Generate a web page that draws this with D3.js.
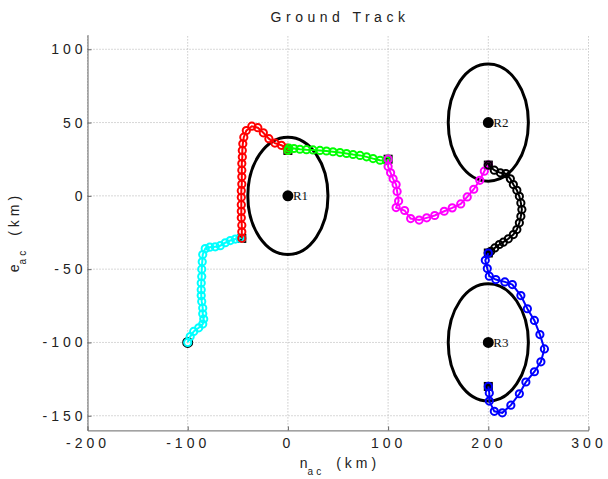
<!DOCTYPE html>
<html>
<head>
<meta charset="utf-8">
<script src="https://cdn.jsdelivr.net/npm/d3@7"></script>
<style>
body { margin: 0; background: #fff; }
text { font-family: "Liberation Sans", Arial, sans-serif; }
</style>
</head>
<body>
<script>
// ground track segments, [n, e] in km
var cyanTrack = [[-100,-100],[-97.5,-96],[-94,-92.5],[-89,-90],[-85,-87.5],[-84,-84],[-85,-80.5],[-85,-76.5],[-86,-72],[-86.5,-68],[-86.5,-64],[-86.5,-59.5],[-86,-55],[-86,-50],[-85.5,-45],[-85,-40],[-82.5,-36],[-78,-35],[-72.5,-34.8],[-67.5,-34],[-62.5,-32],[-57.5,-30.5],[-52.5,-29.5],[-48,-29],[-46,-29]];
var redTrack = [[-46,-29],[-46,-24.5],[-46,-20],[-46.5,-15],[-46.5,-10.5],[-46.5,-6],[-46.5,-1],[-46.5,3.5],[-46,8],[-46,13],[-46,17.5],[-46,22],[-45.5,26.5],[-45.5,31],[-45,35.5],[-44,40],[-41.5,44.5],[-36,47.5],[-30,46.5],[-24.5,43],[-19,39],[-13,36],[-6.5,34.5],[-1,32.5],[0,31]];
var greenTrack = [[0,31],[1,32.5],[6,32.3],[12,31.8],[18.5,31.5],[25,31.3],[32,31],[38.5,30.6],[45,30.1],[52,29.5],[58.5,28.9],[65,28.2],[72,27.6],[78.5,26.6],[85,25.4],[92,24.3],[98.5,24],[100,25]];
var magentaTrack = [[100,25],[100,20],[102.5,15.7],[105,11.6],[108,7.7],[109,3],[110.5,-3.5],[108,-8],[116.5,-10],[122.5,-15.5],[131,-16.5],[138.5,-15],[146.5,-13.4],[156,-10.5],[164,-8.2],[172.5,-5.5],[179,-0.7],[185.5,4.5],[191.5,10.6],[196,16.8],[200,21]];
var blackTrack = [[200,21],[206,17.5],[212,15.7],[217.5,15.2],[222,11.6],[225,7.7],[228.5,3.8],[231,-0.3],[232.5,-4.8],[233.5,-9.3],[232.5,-13.9],[231,-18.4],[228.5,-23],[225,-26.4],[220,-29.3],[215,-31.6],[211,-33.2],[206.5,-35.5],[202.5,-37.8],[200,-39]];
var blueTrack = [[200,-39],[197,-44],[199,-49.6],[201,-54.8],[207.5,-57.1],[216.5,-58.7],[224,-60.5],[232.5,-68],[239,-77],[246,-85],[251.5,-94.6],[256,-104.4],[252.5,-113.2],[246,-120],[237.5,-127],[231,-135],[222.5,-142.8],[214,-148],[206,-147],[201,-140],[201,-134.5],[200,-130]];

// waypoints where the segments join
var waypoints = [[-46,-29],[0,31],[100,25],[200,21],[200,-39],[200,-130]];

// radars
var radarNames = ["R1", "R2", "R3"];
var radarN = [0, 200, 200];
var radarE = [0, 50, -100];
var radarRange = [40, 40, 40];

var xTicks = [-200, -100, 0, 100, 200, 300];
var yTicks = [-150, -100, -50, 0, 50, 100];

window.onload = function(){

    var w = 608, h = 479;

    var svg = d3.select("body")
        .append("svg")
        .attr("width", w)
        .attr("height", h)
        .style("background-color", "#fff");

    var x = d3.scaleLinear().domain([-200, 300]).range([87.5, 588.5]);
    var y = d3.scaleLinear().domain([-160, 110]).range([430.4, 34.6]);

    // dotted grid
    svg.append("g").selectAll("line").data(xTicks).join("line")
        .attr("x1", function(d){ return x(d); })
        .attr("x2", function(d){ return x(d); })
        .attr("y1", y(-160))
        .attr("y2", y(110))
        .attr("stroke", "#b0b0b0")
        .attr("stroke-width", 1)
        .attr("stroke-dasharray", "1,2");
    svg.append("g").selectAll("line").data(yTicks).join("line")
        .attr("x1", x(-200))
        .attr("x2", x(300))
        .attr("y1", function(d){ return y(d); })
        .attr("y2", function(d){ return y(d); })
        .attr("stroke", "#b0b0b0")
        .attr("stroke-width", 1)
        .attr("stroke-dasharray", "1,2");

    // axes, ticks pointing inward
    var xAxis = svg.append("g")
        .attr("transform", "translate(0," + y(-160) + ")")
        .call(d3.axisBottom(x).tickValues(xTicks).tickSize(-4).tickSizeOuter(0).tickPadding(8).tickFormat(d3.format("d")));
    var yAxis = svg.append("g")
        .attr("transform", "translate(" + x(-200) + ",0)")
        .call(d3.axisLeft(y).tickValues(yTicks).tickSize(-4).tickSizeOuter(0).tickPadding(1).tickFormat(d3.format("d")));

    [xAxis, yAxis].forEach(function(a){
        a.select(".domain").attr("stroke", "#666");
        a.selectAll(".tick line").attr("stroke", "#666");
        a.selectAll(".tick text")
            .attr("fill", "#222")
            .style("font-size", "14px")
            .style("letter-spacing", "4px")
            .text(function(d){ return String(d).replace("−", "-"); });
    });

    // radar coverage
    var radars = radarNames.map(function(nm, i){
        return {name: nm, n: radarN[i], e: radarE[i], r: radarRange[i]};
    });
    svg.append("g").selectAll("ellipse").data(radars).join("ellipse")
        .attr("cx", function(d){ return x(d.n); })
        .attr("cy", function(d){ return y(d.e); })
        .attr("rx", function(d){ return x(d.r) - x(0); })
        .attr("ry", function(d){ return y(0) - y(d.r); })
        .attr("fill", "none")
        .attr("stroke", "#000")
        .attr("stroke-width", 3);
    svg.append("g").selectAll("circle").data(radars).join("circle")
        .attr("cx", function(d){ return x(d.n); })
        .attr("cy", function(d){ return y(d.e); })
        .attr("r", 5.5)
        .attr("fill", "#000");
    svg.append("g").selectAll("text").data(radars).join("text")
        .attr("x", function(d){ return x(d.n) + 5; })
        .attr("y", function(d){ return y(d.e) + 4.5; })
        .style("font-family", "'Liberation Serif', 'Times New Roman', serif")
        .style("font-size", "13px")
        .attr("fill", "#111")
        .text(function(d){ return d.name; });

    // waypoint squares
    svg.append("g").selectAll("rect").data(waypoints).join("rect")
        .attr("x", function(d){ return x(d[0]) - 4; })
        .attr("y", function(d){ return y(d[1]) - 4; })
        .attr("width", 8)
        .attr("height", 8)
        .attr("fill", "#000")
        .attr("stroke", "#000")
        .attr("stroke-width", 1);

    // start point
    svg.append("circle")
        .attr("cx", x(cyanTrack[0][0]))
        .attr("cy", y(cyanTrack[0][1]))
        .attr("r", 4.5)
        .attr("fill", "none")
        .attr("stroke", "#000")
        .attr("stroke-width", 2);

    var line = d3.line()
        .x(function(d){ return x(d[0]); })
        .y(function(d){ return y(d[1]); })
        .curve(d3.curveLinear);

    var segments = [
        {pts: cyanTrack, color: "#00ffff"},
        {pts: redTrack, color: "#ff0000"},
        {pts: greenTrack, color: "#00ff00"},
        {pts: magentaTrack, color: "#ff00ff"},
        {pts: blackTrack, color: "#000000"},
        {pts: blueTrack, color: "#0000ff"}
    ];

    segments.forEach(function(s){
        var g = svg.append("g");
        g.append("path")
            .attr("d", line(s.pts))
            .attr("fill", "none")
            .attr("stroke", s.color)
            .attr("stroke-width", 2);
        g.selectAll("circle").data(s.pts).join("circle")
            .attr("cx", function(d){ return x(d[0]); })
            .attr("cy", function(d){ return y(d[1]); })
            .attr("r", 3.6)
            .attr("fill", "none")
            .attr("stroke", s.color)
            .attr("stroke-width", 2);
    });

    // title
    svg.append("text")
        .attr("x", 340)
        .attr("y", 22)
        .attr("text-anchor", "middle")
        .style("font-size", "14px")
        .style("letter-spacing", "4.5px")
        .attr("fill", "#222")
        .text("Ground Track");

    // axis labels
    var xl = svg.append("text")
        .attr("x", 340)
        .attr("y", 468)
        .attr("text-anchor", "middle")
        .style("font-size", "14px")
        .attr("fill", "#222");
    xl.append("tspan").text("n");
    xl.append("tspan").attr("dy", 7).style("font-size", "10px").style("letter-spacing", "3px").text("ac");
    xl.append("tspan").attr("dy", -7).attr("dx", 12).style("letter-spacing", "4px").text("(km)");

    var yl = svg.append("text")
        .attr("transform", "translate(19,232) rotate(-90)")
        .attr("text-anchor", "middle")
        .style("font-size", "14px")
        .attr("fill", "#222");
    yl.append("tspan").text("e");
    yl.append("tspan").attr("dy", 7).style("font-size", "10px").style("letter-spacing", "3px").text("ac");
    yl.append("tspan").attr("dy", -7).attr("dx", 12).style("letter-spacing", "4px").text("(km)");
};
</script>
</body>
</html>
